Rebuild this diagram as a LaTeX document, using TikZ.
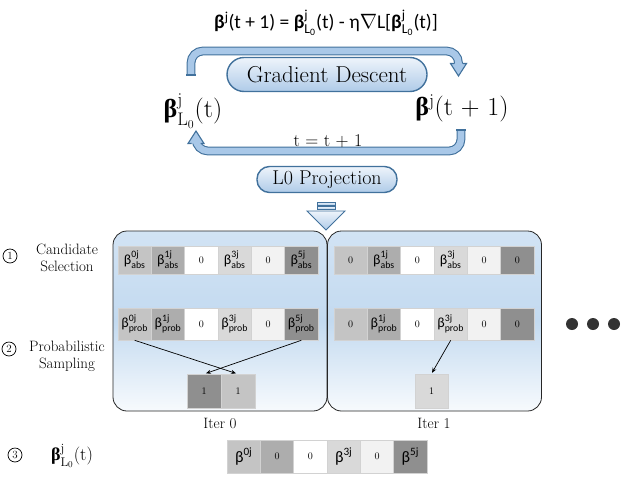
\documentclass[tikz,border=0pt]{standalone}
\usepackage{fontspec}
\usepackage{amsmath}
\usetikzlibrary{arrows.meta}
\newfontfamily\calib{Carlito}
\newfontfamily\tms{Liberation Serif}
\definecolor{cA}{HTML}{C4C4C4}
\definecolor{cB}{HTML}{ADADAD}
\definecolor{cC}{HTML}{FFFFFF}
\definecolor{cD}{HTML}{D9D9D9}
\definecolor{cE}{HTML}{F2F2F2}
\definecolor{cF}{HTML}{8F8F8F}
\definecolor{bandD}{HTML}{41719C}
\definecolor{bandL}{HTML}{A9C8E8}
\definecolor{pillT}{HTML}{EEF4FB}
\definecolor{pillB}{HTML}{AFCBE8}
\definecolor{panT}{HTML}{D2E3F4}
\definecolor{panM}{HTML}{C3DAF0}
\definecolor{panB}{HTML}{F7FAFD}
\newcommand{\bb}[2]{{\calib\fontsize{14}{16}\selectfont β$^{\text{#1}}_{\text{#2}}$}}
\newcommand{\bt}[1]{{\calib\fontsize{16}{18}\selectfont β$^{\text{#1}}$}}
\newcommand{\bigb}{{\tms\bfseries β}}
\tikzset{
  cellbox/.style={draw=gray!35, line width=0.6pt, minimum width=33.3pt, inner sep=0pt, font=\fontsize{10}{11}\selectfont},
  rowA/.style={cellbox, minimum height=28pt},
  rowB/.style={cellbox, minimum height=32pt},
  resbox/.style={cellbox, minimum width=34pt, minimum height=34pt},
  botbox/.style={cellbox, minimum height=33pt},
  panel/.style={draw=black!85, line width=0.8pt, rounded corners=14pt, top color=panT, bottom color=panB, middle color=panM, minimum width=214pt, minimum height=180pt},
  pill/.style={draw=bandD, line width=1.4pt, top color=pillT, bottom color=pillB},
  band/.style={draw=bandD, line width=1.1pt, double=bandL, double distance=6.6pt, rounded corners=12pt},
  headfill/.style={draw=bandD, line width=1.1pt, fill=bandL},
  arr/.style={-{Stealth[length=5pt,width=4pt]}, line width=0.7pt, shorten >=1pt},
  lbl/.style={font=\fontsize{15}{16}\selectfont, align=center, inner sep=0pt},
  numc/.style={circle, draw=black, line width=0.7pt, minimum size=14pt, inner sep=0pt, font=\fontsize{11}{12}\selectfont},
  dot/.style={circle, fill=black!80, minimum size=12pt, inner sep=0pt},
}
\begin{document}
\begin{tikzpicture}[x=1pt,y=-1pt]
\useasboundingbox (0,0) rectangle (621,477);

% ---------- top loop ----------
\node (eq) at (326,23) {\calib\fontsize{19.5}{22}\selectfont \textbf{β}$^{\text{j}}$(t + 1) = \textbf{β}$^{\text{j}}_{\text{L}_{\text{0}}}$(t) - η$\nabla$L[\textbf{β}$^{\text{j}}_{\text{L}_{\text{0}}}$(t)]};

\coordinate (ua) at (191,75);
\coordinate (ub) at (458.5,64);
\draw[band] (ua) |- (458.5,51) -- (ub);
\draw[bandD, line width=1.1pt] (186.2,75) -- (195.8,75);
\draw[headfill] (454,63.5) -- (450.5,63.5) -- (458.5,76) -- (466.5,63.5) -- (463,63.5);

\coordinate (la) at (461,130);
\coordinate (lb) at (196,143);
\draw[band] (la) |- (196,151) -- (lb);
\draw[bandD, line width=1.1pt] (456.2,130) -- (465.8,130);
\draw[headfill] (191.5,143.5) -- (188,143.5) -- (196,131) -- (204,143.5) -- (200.5,143.5);

\node[pill, rounded corners=17pt, minimum width=200pt, minimum height=34pt, inner sep=0pt, font=\fontsize{23}{26}\selectfont] (gd) at (327,74.5) {Gradient Descent};

\node[font=\fontsize{26}{30}\selectfont, inner sep=0pt] (bl) at (193,111) {\bigb$^{\mathrm{j}}_{\mathrm{L}_0}$(t)};
\node[font=\fontsize{26}{30}\selectfont, inner sep=0pt] (br) at (462,108) {\bigb$^{\mathrm{j}}$(t + 1)};

\node[font=\fontsize{18}{21}\selectfont, inner sep=0pt] (tt) at (328,141) {t = t + 1};

\node[pill, rounded corners=12.5pt, minimum width=140pt, minimum height=26pt, inner sep=0pt, font=\fontsize{20}{23}\selectfont] (lp) at (327,179.5) {L0 Projection};

% down block arrow
\draw[pill, line width=0.9pt] (317,202) rectangle (335,205);
\draw[pill, line width=0.9pt] (317,206.5) rectangle (335,209.5);
\draw[pill, line width=0.9pt] (307,211) -- (345,211) -- (326,230) -- cycle;

% ---------- panels ----------
\node[panel] (p0) at (220,321) {};
\node[panel] (p1) at (434.5,321) {};

% iter 0 row A
\node[rowA, fill=cA] (a0) at (134.7,260) {\bb{0j}{abs}};
\node[rowA, fill=cB] (a1) at (168,260) {\bb{1j}{abs}};
\node[rowA, fill=cC] (a2) at (201.3,260) {0};
\node[rowA, fill=cD] (a3) at (234.7,260) {\bb{3j}{abs}};
\node[rowA, fill=cE] (a4) at (268,260) {0};
\node[rowA, fill=cF] (a5) at (301.3,260) {\bb{5j}{abs}};
% iter 0 row B
\node[rowB, fill=cA] (c0) at (134.7,324) {\bb{0j}{prob}};
\node[rowB, fill=cB] (c1) at (168,324) {\bb{1j}{prob}};
\node[rowB, fill=cC] (c2) at (201.3,324) {0};
\node[rowB, fill=cD] (c3) at (234.7,324) {\bb{3j}{prob}};
\node[rowB, fill=cE] (c4) at (268,324) {0};
\node[rowB, fill=cF] (c5) at (301.3,324) {\bb{5j}{prob}};
% iter 0 result
\node[resbox, fill=cF] (r0) at (204,391) {1};
\node[resbox, fill=cA] (r1) at (238,391) {1};
\draw[arr] (c0.south) -- ([xshift=-1pt]r1.north);
\draw[arr] (c5.south) -- ([xshift=1pt]r0.north);

% iter 1 row A
\node[rowA, fill=cA] (b0) at (350.7,260) {0};
\node[rowA, fill=cB] (b1) at (384,260) {\bb{1j}{abs}};
\node[rowA, fill=cC] (b2) at (417.3,260) {0};
\node[rowA, fill=cD] (b3) at (450.7,260) {\bb{3j}{abs}};
\node[rowA, fill=cE] (b4) at (484,260) {0};
\node[rowA, fill=cF] (b5) at (517.3,260) {0};
% iter 1 row B
\node[rowB, fill=cA] (d0) at (350.7,324) {0};
\node[rowB, fill=cB] (d1) at (384,324) {\bb{1j}{prob}};
\node[rowB, fill=cC] (d2) at (417.3,324) {0};
\node[rowB, fill=cD] (d3) at (450.7,324) {\bb{3j}{prob}};
\node[rowB, fill=cE] (d4) at (484,324) {0};
\node[rowB, fill=cF] (d5) at (517.3,324) {0};
% iter 1 result
\node[resbox, minimum width=33pt, fill=cD] (s0) at (431.5,391) {1};
\draw[arr] (d3.south) -- (s0.north);

\node[lbl] (it0) at (220,423) {Iter 0};
\node[lbl] (it1) at (434,423) {Iter 1};

% dots
\node[dot] (e1) at (572,324) {};
\node[dot] (e2) at (593,324) {};
\node[dot] (e3) at (614,324) {};

% ---------- left labels ----------
\node[numc] (n1) at (10,256) {1};
\node[lbl] (l1) at (67,258) {Candidate\\[1pt]Selection};
\node[numc] (n2) at (9,349) {2};
\node[lbl] (l2) at (67,356) {Probabilistic\\[1pt]Sampling};
\node[numc] (n3) at (15,455) {3};
\node[font=\fontsize{18}{21}\selectfont, inner sep=0pt] (l3) at (72,456) {{\tms\bfseries β}$^{\mathrm{j}}_{\mathrm{L}_0}$(t)};

% ---------- final row ----------
\node[botbox, fill=cA] (f0) at (243.7,456.5) {\bt{0j}};
\node[botbox, fill=cB] (f1) at (277,456.5) {0};
\node[botbox, fill=cC] (f2) at (310.3,456.5) {0};
\node[botbox, fill=cD] (f3) at (343.7,456.5) {\bt{3j}};
\node[botbox, fill=cE] (f4) at (377,456.5) {0};
\node[botbox, fill=cF] (f5) at (410.3,456.5) {\bt{5j}};
\end{tikzpicture}
\end{document}
